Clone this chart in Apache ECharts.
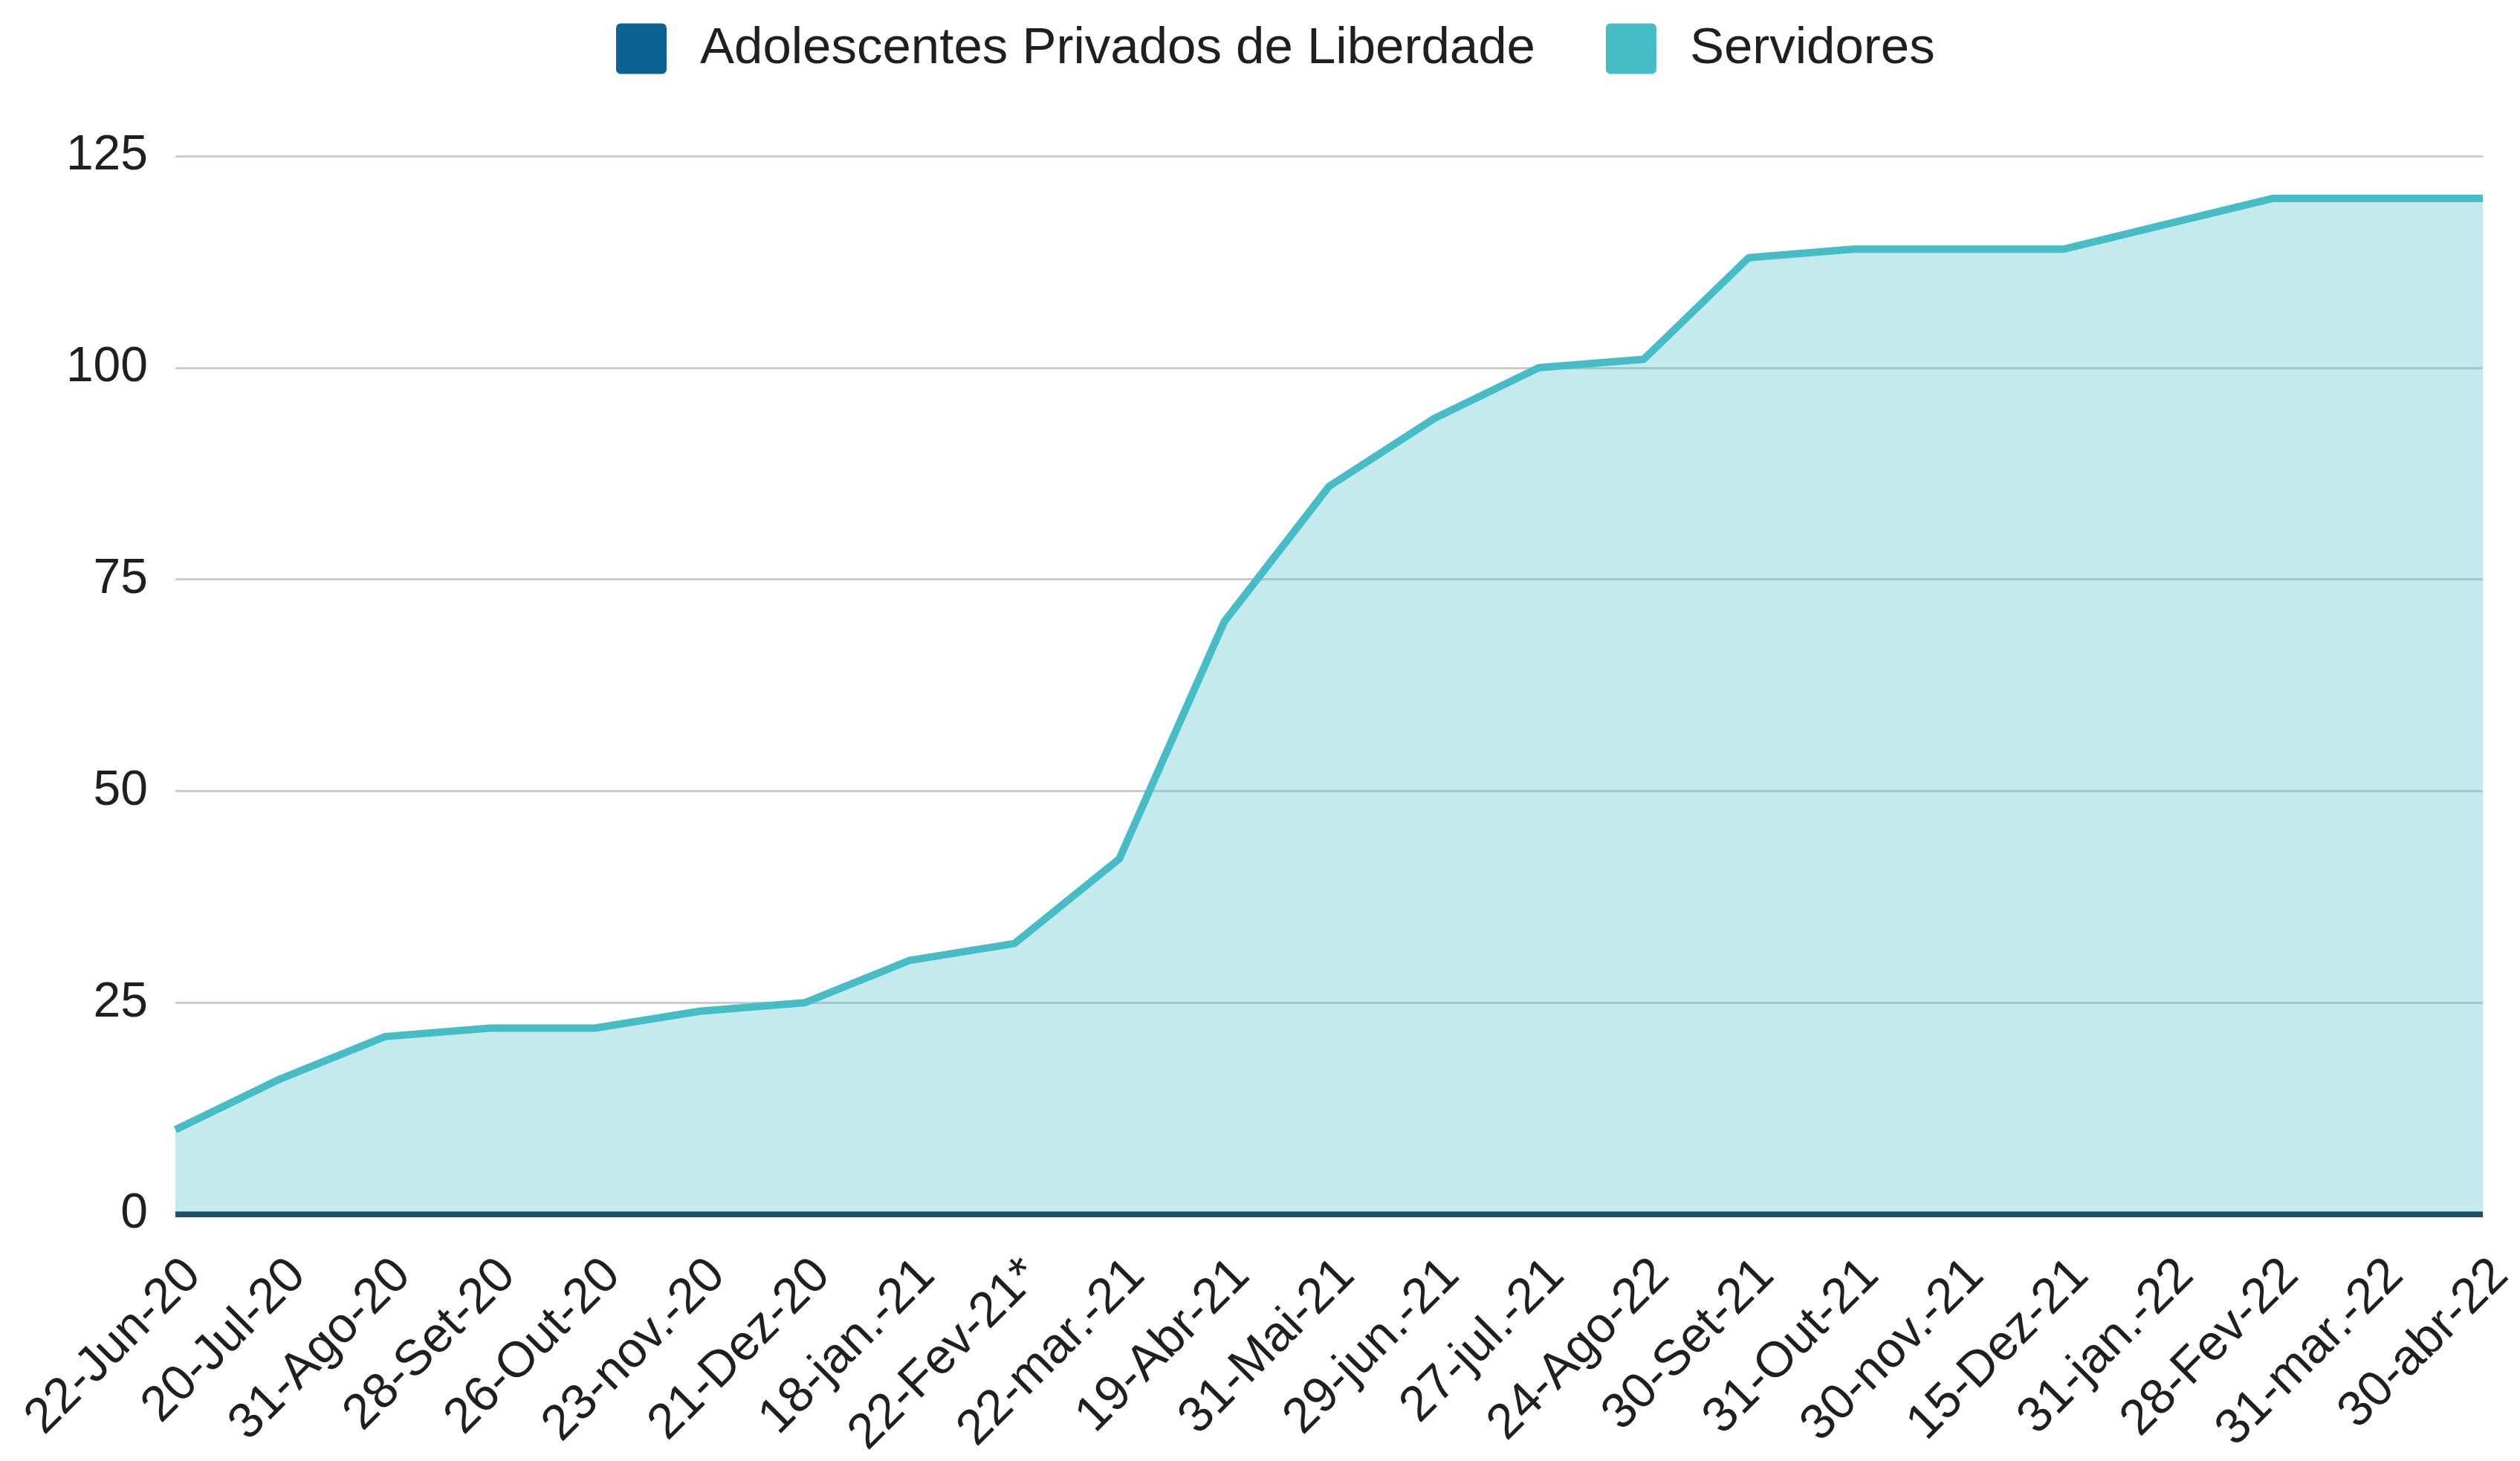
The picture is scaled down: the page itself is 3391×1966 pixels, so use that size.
<!DOCTYPE html>
<html>
<head>
<meta charset="utf-8">
<script src="https://cdn.jsdelivr.net/npm/echarts@6/dist/echarts.min.js"></script>
<style>
html,body{margin:0;padding:0;background:#fff;}
#c{width:3391px;height:1966px;}
</style>
</head>
<body>
<div id="c"></div>
<script>
const categories = ["22-Jun-20","20-Jul-20","31-Ago-20","28-Set-20","26-Out-20","23-nov.-20","21-Dez-20","18-jan.-21","22-Fev-21*","22-mar.-21","19-Abr-21","31-Mai-21","29-jun.-21","27-jul.-21","24-Ago-22","30-Set-21","31-Out-21","30-nov.-21","15-Dez-21","31-jan.-22","28-Fev-22","31-mar.-22","30-abr-22"];
const adolescentes = [0,0,0,0,0,0,0,0,0,0,0,0,0,0,0,0,0,0,0,0,0,0,0];
const servidores = [10,16,21,22,22,24,25,30,32,42,70,86,94,100,101,113,114,114,114,117,120,120,120];
const yTicks = [0,25,50,75,100,125];

const FONT = '"Liberation Sans", Arial, sans-serif';
const ICON = 'path://M3,0 H29 A3,3 0 0 1 32,3 V29 A3,3 0 0 1 29,32 H3 A3,3 0 0 1 0,29 V3 A3,3 0 0 1 3,0 Z';
const chart = echarts.init(document.getElementById('c'));
chart.setOption({
  animation: false,
  backgroundColor: '#ffffff',
  legend: {
    top: 26,
    left: 824,
    itemWidth: 68,
    itemHeight: 68,
    itemGap: 95,
    icon: ICON,
    textStyle: { fontFamily: FONT, fontSize: 69, color: '#1f1f1f', padding: [0,0,0,40] },
    data: [
      { name: 'Adolescentes Privados de Liberdade', itemStyle: { color: '#0b6394' } },
      { name: 'Servidores', itemStyle: { color: '#46bdc6' } }
    ]
  },
  grid: { left: 236, right: 50, top: 210, bottom: 317, containLabel: false },
  xAxis: {
    type: 'category',
    data: categories,
    boundaryGap: false,
    axisLine: { show: false },
    axisTick: { show: false },
    splitLine: { show: false },
    axisLabel: {
      interval: 0,
      rotate: 45,
      align: 'right',
      verticalAlign: 'top',
      margin: 48,
      fontFamily: FONT,
      fontSize: 67,
      color: '#1f1f1f'
    }
  },
  yAxis: {
    type: 'value',
    min: yTicks[0],
    max: yTicks[yTicks.length - 1],
    interval: 25,
    axisLine: { show: false },
    axisTick: { show: false },
    splitLine: { show: true, lineStyle: { color: '#cccccc', width: 3 } },
    axisLabel: { margin: 37, fontFamily: FONT, fontSize: 66, color: '#1f1f1f' }
  },
  series: [
    {
      name: 'Servidores',
      type: 'line',
      data: servidores,
      showSymbol: false,
      symbol: 'none',
      z: 2,
      lineStyle: { color: '#46bdc6', width: 10 },
      itemStyle: { color: '#46bdc6' },
      areaStyle: { color: '#46bdc6', opacity: 0.32 }
    },
    {
      name: 'Adolescentes Privados de Liberdade',
      type: 'line',
      data: adolescentes,
      showSymbol: false,
      symbol: 'none',
      z: 3,
      lineStyle: { color: '#1d5064', width: 8 },
      itemStyle: { color: '#0b6394' }
    }
  ]
});
</script>
</body>
</html>
